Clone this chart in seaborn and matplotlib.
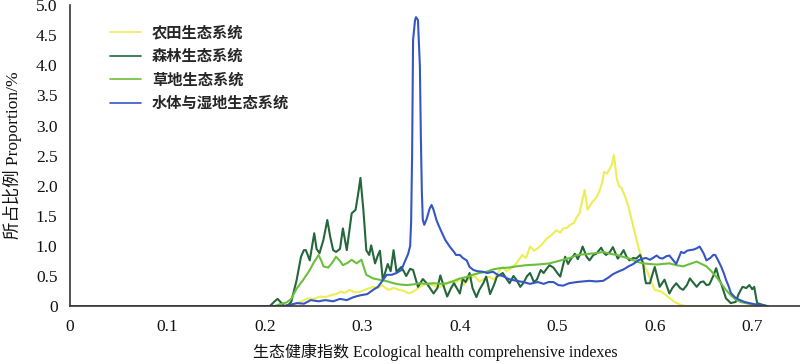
import numpy as np
import pandas as pd
import matplotlib
matplotlib.use("Agg")
import matplotlib.pyplot as plt
import seaborn as sns

# ---------------- data ----------------
series_names = ["农田生态系统", "森林生态系统", "草地生态系统", "水体与湿地生态系统"]
colors = ["#eded55", "#23673b", "#6cbf3c", "#3656c4"]

farm_x = [0, 0.222, 0.228, 0.233, 0.238, 0.244, 0.250, 0.257, 0.262, 0.268, 0.273, 0.278, 0.282,
          0.287, 0.292, 0.298, 0.304, 0.311, 0.316, 0.320, 0.324, 0.327, 0.332, 0.338, 0.343,
          0.348, 0.353, 0.359, 0.364, 0.369, 0.374, 0.380, 0.385, 0.390, 0.395, 0.400, 0.404,
          0.407, 0.410, 0.415, 0.420, 0.425, 0.430, 0.435, 0.441, 0.444, 0.448, 0.452, 0.458,
          0.464, 0.468, 0.472, 0.476, 0.479, 0.484, 0.489, 0.494, 0.499, 0.503, 0.506, 0.510,
          0.513, 0.517, 0.520, 0.523, 0.525, 0.528, 0.531, 0.534, 0.536, 0.540, 0.543, 0.546,
          0.548, 0.551, 0.553, 0.556, 0.558, 0.561, 0.563, 0.566, 0.570, 0.573, 0.578, 0.583,
          0.588, 0.593, 0.597, 0.600, 0.607, 0.614, 0.620, 0.627, 0.632, 0.716]
farm_y = [0, 0, 0.02, 0.05, 0.08, 0.13, 0.12, 0.16, 0.15, 0.18, 0.20, 0.24, 0.22,
          0.27, 0.23, 0.24, 0.28, 0.32, 0.30, 0.35, 0.30, 0.27, 0.30, 0.27, 0.25,
          0.21, 0.25, 0.32, 0.36, 0.38, 0.33, 0.32, 0.36, 0.41, 0.38, 0.45, 0.35,
          0.42, 0.46, 0.50, 0.41, 0.45, 0.49, 0.44, 0.60, 0.65, 0.58, 0.62, 0.71,
          0.85, 0.80, 0.99, 0.92, 0.95, 1.02, 1.12, 1.18, 1.26, 1.22, 1.29, 1.30,
          1.35, 1.38, 1.48, 1.55, 1.71, 1.93, 1.60, 1.68, 1.73, 1.80, 1.90, 2.05,
          2.23, 2.20, 2.26, 2.35, 2.51, 2.12, 2.00, 1.96, 1.80, 1.65, 1.32, 0.99,
          0.71, 0.55, 0.38, 0.27, 0.24, 0.15, 0.07, 0.02, 0, 0]

forest_x = [0, 0.205, 0.210, 0.213, 0.217, 0.220, 0.224, 0.227, 0.2325, 0.237, 0.240, 0.242, 0.246,
            0.2506, 0.253, 0.256, 0.260, 0.264, 0.267, 0.270, 0.273, 0.277, 0.280, 0.284, 0.287,
            0.289, 0.293, 0.296, 0.298, 0.301, 0.304, 0.307, 0.309, 0.313, 0.316, 0.318, 0.321,
            0.326, 0.329, 0.332, 0.335, 0.340, 0.345, 0.349, 0.352, 0.357, 0.362, 0.366, 0.373,
            0.377, 0.380, 0.384, 0.387, 0.391, 0.394, 0.400, 0.403, 0.406, 0.410, 0.413, 0.417,
            0.420, 0.424, 0.427, 0.431, 0.435, 0.438, 0.444, 0.448, 0.451, 0.455, 0.458, 0.462,
            0.465, 0.469, 0.472, 0.476, 0.479, 0.483, 0.486, 0.489, 0.492, 0.496, 0.500, 0.503,
            0.508, 0.511, 0.513, 0.518, 0.521, 0.523, 0.526, 0.530, 0.533, 0.537, 0.540, 0.545,
            0.548, 0.550, 0.554, 0.557, 0.562, 0.565, 0.568, 0.571, 0.574, 0.578, 0.581, 0.585,
            0.588, 0.590, 0.591, 0.595, 0.598, 0.600, 0.603, 0.605, 0.610, 0.613, 0.615, 0.618,
            0.622, 0.626, 0.629, 0.633, 0.636, 0.640, 0.643, 0.647, 0.650, 0.653, 0.656, 0.660,
            0.663, 0.666, 0.668, 0.673, 0.678, 0.683, 0.686, 0.690, 0.694, 0.697, 0.700, 0.702,
            0.705, 0.711, 0.716]
forest_y = [0, 0, 0.08, 0.12, 0.05, 0.0, 0.02, 0.07, 0.43, 0.82, 0.93, 0.93, 0.76,
            1.21, 0.95, 0.88, 1.10, 1.43, 1.15, 0.93, 0.90, 0.95, 1.29, 0.93, 1.30,
            1.54, 1.60, 1.90, 2.13, 1.60, 0.93, 0.85, 1.01, 0.71, 0.85, 0.92, 0.43,
            0.70, 0.58, 0.93, 0.57, 0.65, 0.50, 0.62, 0.60, 0.32, 0.45, 0.38, 0.21,
            0.30, 0.51, 0.30, 0.16, 0.30, 0.38, 0.21, 0.45, 0.40, 0.55, 0.30, 0.15,
            0.27, 0.38, 0.49, 0.20, 0.35, 0.49, 0.55, 0.45, 0.38, 0.50, 0.44, 0.32,
            0.38, 0.50, 0.55, 0.40, 0.44, 0.60, 0.55, 0.62, 0.68, 0.64, 0.55, 0.49,
            0.82, 0.70, 0.76, 0.87, 0.78, 0.85, 0.99, 0.82, 0.76, 0.85, 0.87, 0.97,
            0.88, 0.85, 0.90, 0.98, 0.79, 0.85, 0.93, 0.82, 0.76, 0.80, 0.79, 0.85,
            0.71, 0.45, 0.38, 0.38, 0.55, 0.65, 0.45, 0.32, 0.44, 0.30, 0.21, 0.30,
            0.38, 0.30, 0.27, 0.35, 0.46, 0.38, 0.32, 0.40, 0.41, 0.35, 0.36, 0.50,
            0.63, 0.45, 0.38, 0.13, 0.05, 0.07, 0.20, 0.32, 0.30, 0.35, 0.28, 0.32,
            0.05, 0.02, 0]

grass_x = [0, 0.210, 0.215, 0.222, 0.227, 0.2325, 0.239, 0.246, 0.250, 0.255, 0.258, 0.260, 0.265,
           0.269, 0.273, 0.277, 0.280, 0.285, 0.289, 0.294, 0.299, 0.302, 0.304, 0.311, 0.320,
           0.326, 0.332, 0.338, 0.345, 0.352, 0.359, 0.366, 0.373, 0.380, 0.387, 0.394, 0.400,
           0.406, 0.413, 0.420, 0.427, 0.434, 0.441, 0.450, 0.458, 0.468, 0.479, 0.486, 0.492,
           0.499, 0.506, 0.513, 0.520, 0.527, 0.533, 0.540, 0.547, 0.554, 0.561, 0.567, 0.574,
           0.581, 0.588, 0.595, 0.602, 0.608, 0.615, 0.622, 0.629, 0.636, 0.643, 0.648, 0.653,
           0.658, 0.663, 0.668, 0.673, 0.678, 0.683, 0.688, 0.693, 0.700, 0.704, 0.712, 0.716]
grass_y = [0, 0, 0.03, 0.06, 0.12, 0.29, 0.43, 0.60, 0.72, 0.85, 0.75, 0.66, 0.64,
           0.72, 0.82, 0.75, 0.68, 0.72, 0.77, 0.71, 0.77, 0.62, 0.52, 0.46, 0.43,
           0.41, 0.38, 0.36, 0.35, 0.36, 0.38, 0.37, 0.38, 0.37, 0.38, 0.42, 0.46,
           0.48, 0.52, 0.55, 0.57, 0.61, 0.63, 0.64, 0.66, 0.68, 0.69, 0.70, 0.71,
           0.74, 0.77, 0.80, 0.85, 0.86, 0.87, 0.88, 0.90, 0.87, 0.85, 0.82, 0.79,
           0.74, 0.71, 0.70, 0.69, 0.70, 0.71, 0.68, 0.66, 0.70, 0.74, 0.70, 0.66,
           0.58, 0.49, 0.38, 0.27, 0.18, 0.11, 0.07, 0.05, 0.03, 0.02, 0, 0]

water_x = [0, 0.220, 0.233, 0.240, 0.247, 0.255, 0.262, 0.270, 0.277, 0.284, 0.291, 0.298, 0.305,
           0.311, 0.316, 0.320, 0.325, 0.330, 0.335, 0.340, 0.342, 0.347, 0.349, 0.350, 0.351,
           0.352, 0.354, 0.355, 0.357, 0.359, 0.360, 0.361, 0.362, 0.3635, 0.366, 0.369, 0.371,
           0.373, 0.376, 0.378, 0.381, 0.385, 0.390, 0.394, 0.396, 0.400, 0.403, 0.407, 0.410,
           0.414, 0.418, 0.424, 0.428, 0.434, 0.439, 0.444, 0.450, 0.458, 0.465, 0.472, 0.480,
           0.486, 0.491, 0.496, 0.501, 0.506, 0.512, 0.520, 0.526, 0.533, 0.540, 0.547, 0.552,
           0.557, 0.562, 0.568, 0.573, 0.578, 0.583, 0.588, 0.591, 0.595, 0.600, 0.602, 0.605,
           0.608, 0.612, 0.615, 0.618, 0.622, 0.625, 0.627, 0.630, 0.633, 0.636, 0.640, 0.643,
           0.646, 0.650, 0.653, 0.657, 0.660, 0.662, 0.665, 0.668, 0.671, 0.673, 0.676, 0.678,
           0.682, 0.686, 0.692, 0.697, 0.703, 0.707, 0.714, 0.716]
water_y = [0, 0, 0.05, 0.04, 0.10, 0.08, 0.10, 0.08, 0.12, 0.10, 0.15, 0.18, 0.20,
           0.27, 0.32, 0.41, 0.52, 0.52, 0.55, 0.60, 0.68, 0.87, 1.00, 1.40, 2.50,
           4.42, 4.75, 4.80, 4.75, 3.98, 2.80, 1.90, 1.43, 1.35, 1.45, 1.62, 1.68,
           1.60, 1.43, 1.35, 1.24, 1.10, 0.98, 0.90, 0.85, 0.85, 0.80, 0.76, 0.65,
           0.60, 0.58, 0.57, 0.55, 0.57, 0.52, 0.50, 0.45, 0.42, 0.40, 0.37, 0.40,
           0.37, 0.40, 0.40, 0.35, 0.34, 0.38, 0.40, 0.41, 0.42, 0.41, 0.42, 0.47,
           0.53, 0.57, 0.61, 0.66, 0.70, 0.76, 0.79, 0.80, 0.77, 0.82, 0.84, 0.80,
           0.79, 0.83, 0.84, 0.78, 0.70, 0.82, 0.90, 0.88, 0.92, 0.93, 0.94, 0.96,
           0.99, 0.88, 0.76, 0.80, 0.85, 0.85, 0.76, 0.66, 0.54, 0.44, 0.32, 0.22,
           0.15, 0.11, 0.07, 0.05, 0.03, 0.02, 0, 0]

x_ticks = [0, 0.1, 0.2, 0.3, 0.4, 0.5, 0.6, 0.7]
x_tick_labels = ["0", "0.1", "0.2", "0.3", "0.4", "0.5", "0.6", "0.7"]
y_ticks = [0, 0.5, 1.0, 1.5, 2.0, 2.5, 3.0, 3.5, 4.0, 4.5, 5.0]
y_tick_labels = ["0", "0.5", "1.0", "1.5", "2.0", "2.5", "3.0", "3.5", "4.0", "4.5", "5.0"]
x_label = "生态健康指数 Ecological health comprehensive indexes"
y_label = "所占比例 Proportion/%"

# ---------------- build table ----------------
frames = []
for name, xs, ys in zip(series_names,
                        [farm_x, forest_x, grass_x, water_x],
                        [farm_y, forest_y, grass_y, water_y]):
    frames.append(pd.DataFrame({"x": xs, "y": ys, "type": name}))
df = pd.concat(frames, ignore_index=True)

# ---------------- style ----------------
sns.set_style("white")
fams = ["Liberation Serif", "Noto Sans CJK SC", "DejaVu Sans"]
plt.rcParams["font.family"] = fams
axis_col = "#3b3333"

fig = plt.figure(figsize=(8.0, 3.64), dpi=100)
ax = fig.add_axes([0.0875, 0.159, 0.9125, 0.827])

sns.lineplot(data=df, x="x", y="y", hue="type", hue_order=series_names,
             palette=dict(zip(series_names, colors)), estimator=None, sort=False,
             linewidth=1.5, ax=ax)

ax.set_xlim(0, 0.749)
ax.set_ylim(0, 5.0)
ax.set_xticks(x_ticks)
ax.set_xticklabels(x_tick_labels)
ax.set_yticks(y_ticks)
ax.set_yticklabels(y_tick_labels)
ax.tick_params(axis="both", direction="in", length=4, width=1.0, color=axis_col,
               labelsize=12.5, labelcolor="#111111")
ax.tick_params(axis="x", pad=9)
ax.tick_params(axis="y", pad=9)
for s in ["top", "right"]:
    ax.spines[s].set_visible(False)
for s in ["left", "bottom"]:
    ax.spines[s].set_color(axis_col)
    ax.spines[s].set_linewidth(1.2)

ax.set_xlabel(x_label, fontsize=11.5, family=fams, labelpad=6, color="#111111")
ax.set_ylabel(y_label, fontsize=12.5, family=fams, labelpad=10, color="#111111")

handles, labels = ax.get_legend_handles_labels()
leg = ax.legend(handles, labels, loc="upper left", bbox_to_anchor=(0.036, 0.978),
                frameon=False, handlelength=2.0, handletextpad=0.75,
                labelspacing=0.6, prop={"family": fams, "size": 11, "weight": "bold"})
for h in leg.get_lines():
    h.set_linewidth(1.2)

fig.savefig("out.png", dpi=100)
